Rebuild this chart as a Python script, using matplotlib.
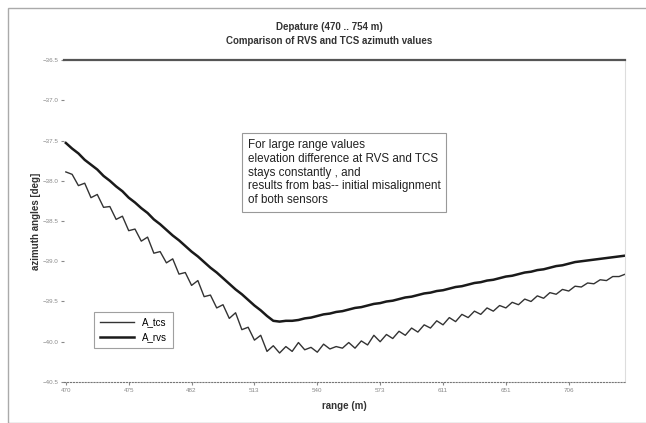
import matplotlib.pyplot as plt
from matplotlib.patches import Rectangle

plt.rcParams['font.family'] = ['Liberation Sans', 'DejaVu Sans']

# sample index along the range axis (category axis, labels every 10 samples)
tick_labels = ['470', '475', '482', '513', '540', '573', '611', '651', '706']
y_ticks = [-36.5, -37.0, -37.5, -38.0, -38.5, -39.0, -39.5, -40.0, -40.5]

# upper (smooth) curve
a_rvs = [-37.53, -37.60, -37.66, -37.74, -37.80, -37.86, -37.94, -38.00, -38.07, -38.13,
         -38.21, -38.27, -38.34, -38.40, -38.48, -38.54, -38.61, -38.68, -38.74, -38.81,
         -38.88, -38.94, -39.01, -39.08, -39.14, -39.21, -39.28, -39.35, -39.41, -39.48,
         -39.55, -39.61, -39.68, -39.74, -39.75, -39.74, -39.74, -39.73, -39.71, -39.70,
         -39.68, -39.66, -39.65, -39.63, -39.62, -39.60, -39.58, -39.57, -39.55, -39.53,
         -39.52, -39.50, -39.49, -39.47, -39.45, -39.44, -39.42, -39.40, -39.39, -39.37,
         -39.36, -39.34, -39.32, -39.31, -39.29, -39.27, -39.26, -39.24, -39.23, -39.21,
         -39.19, -39.18, -39.16, -39.14, -39.13, -39.11, -39.10, -39.08, -39.06, -39.05,
         -39.03, -39.01, -39.00, -38.99, -38.98, -38.97, -38.96, -38.95, -38.94, -38.93]

# lower (noisy) curve
a_tcs = [-37.89, -37.92, -38.06, -38.03, -38.21, -38.17, -38.33, -38.32, -38.48, -38.44,
         -38.62, -38.60, -38.75, -38.70, -38.90, -38.88, -39.02, -38.97, -39.16, -39.14,
         -39.30, -39.24, -39.44, -39.42, -39.58, -39.54, -39.71, -39.64, -39.85, -39.82,
         -39.98, -39.92, -40.12, -40.05, -40.14, -40.06, -40.12, -40.01, -40.10, -40.07,
         -40.13, -40.03, -40.09, -40.06, -40.08, -40.01, -40.08, -39.99, -40.04, -39.92,
         -40.00, -39.91, -39.96, -39.87, -39.92, -39.83, -39.88, -39.79, -39.83, -39.74,
         -39.79, -39.70, -39.75, -39.66, -39.70, -39.62, -39.66, -39.58, -39.62, -39.55,
         -39.58, -39.51, -39.54, -39.47, -39.50, -39.43, -39.46, -39.39, -39.41, -39.35,
         -39.37, -39.31, -39.32, -39.27, -39.28, -39.23, -39.24, -39.19, -39.19, -39.16]

x = list(range(len(a_rvs)))

fig = plt.figure(figsize=(6.46, 4.23), dpi=100)
ax = fig.add_axes([0.099, 0.097, 0.869, 0.761])

ax.plot(x, a_tcs, color='#333333', lw=1.0, label='A_tcs')
ax.plot(x, a_rvs, color='#1a1a1a', lw=1.8, label='A_rvs')

ax.set_xlim(-0.3, 89)
ax.set_ylim(-40.5, -36.5)
ax.set_xticks(range(0, 90, 10))
ax.set_xticklabels(tick_labels)
ax.set_yticks(y_ticks)
ax.tick_params(labelsize=4.5, colors='#888888', length=2, pad=2)

ax.spines['top'].set_color('#555555')
ax.spines['top'].set_linewidth(1.6)
ax.spines['bottom'].set_linestyle(':')
ax.spines['bottom'].set_color('#777777')
ax.spines['left'].set_visible(False)
ax.spines['right'].set_color('#dddddd')

ax.set_xlabel('range (m)', fontsize=7, fontweight='bold', color='#333333', labelpad=6)
ax.set_ylabel('azimuth angles [deg]', fontsize=7, fontweight='bold', color='#333333', labelpad=1)
fig.text(0.51, 0.93, 'Depature (470 .. 754 m)', ha='center', fontsize=7, fontweight='bold', color='#333333')
fig.text(0.51, 0.895, 'Comparison of RVS and TCS azimuth values', ha='center', fontsize=7, fontweight='bold', color='#333333')

note = ('For large range values\nelevation difference at RVS and TCS\nstays constantly , and\n'
        'results from bas-- initial misalignment\nof both sensors')
ax.text(0.327, 0.755, note, transform=ax.transAxes, fontsize=8.4, va='top', ha='left',
        linespacing=1.2, color='#222222',
        bbox=dict(boxstyle='square,pad=0.5', fc='white', ec='#999999', lw=0.8))

leg = ax.legend(loc='lower left', bbox_to_anchor=(0.045, 0.09), fontsize=7, frameon=True,
                fancybox=False, edgecolor='#888888', handlelength=3.5, borderpad=0.6)
leg.get_frame().set_linewidth(0.8)

fig.patches.append(Rectangle((0.012, 0.0), 0.99, 0.98, transform=fig.transFigure,
                             fill=False, ec='#aaaaaa', lw=1.0))

fig.savefig('out.png', dpi=100)
